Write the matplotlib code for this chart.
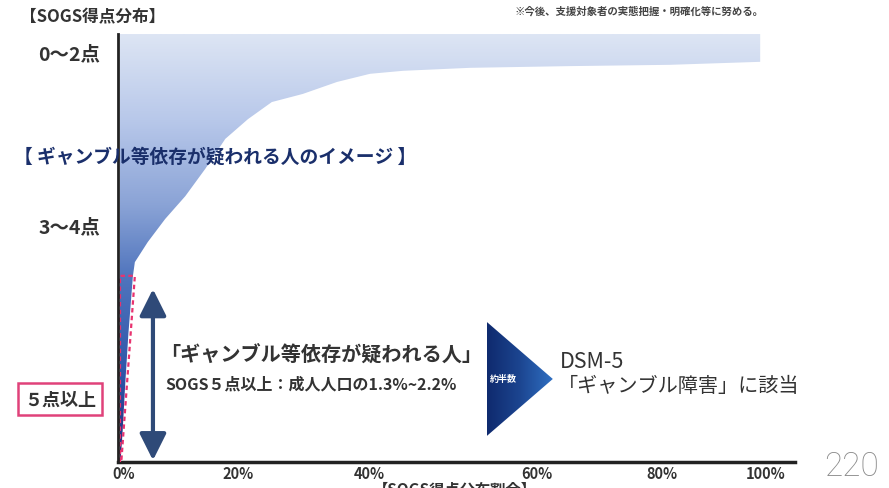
import matplotlib
matplotlib.use("Agg")
import matplotlib.pyplot as plt
import numpy as np
from matplotlib.colors import LinearSegmentedColormap
from matplotlib.patches import Polygon

plt.rcParams["font.family"] = ["Noto Sans CJK JP", "DejaVu Sans"]

W, H = 889, 489

# share of population (%) vs. height of the score band (100 = top of chart)
curve_x = [99.1, 85.1, 69.7, 54.2, 43.8, 38.7, 33.6, 28.3, 23.5, 19.8, 16.3,
           13.2, 10.1, 7.0, 4.3, 2.3, 2.0, 1.3, 0.8, 0.4, 0.1]
curve_y = [93.5, 92.8, 92.5, 92.1, 91.4, 90.7, 88.8, 86.0, 84.1, 80.1, 75.5,
           68.5, 62.1, 56.8, 51.4, 46.7, 43.5, 30.0, 18.0, 7.0, 0.5]
top_y = 100.0

# pathological (SOGS 5+) wedge outline
wedge_x = [0.0, 0.0, 2.3, 0.2]
wedge_y = [0.0, 43.5, 43.5, 0.0]

tick_pos = [0.6, 18.3, 38.6, 64.6, 83.9, 100.0]
tick_labels = ["0%", "20%", "40%", "60%", "80%", "100%"]

score_labels = ["0～2点", "3～4点"]
score_pos = [95.3, 54.9]


def fx(px):
    return px / W


def fy(py):
    return 1 - py / H


fig = plt.figure(figsize=(W / 100, H / 100), dpi=100)
ax = fig.add_axes([fx(118), fy(463), (795 - 118) / W, (463 - 35) / H])
ax.set_xlim(-0.31, 104.49)
ax.set_ylim(0, 100)

# gradient filled distribution shape
shape = Polygon(list(zip([0.0, curve_x[0]] + curve_x + [0.0],
                         [top_y, top_y] + curve_y + [0.0])),
                closed=True, facecolor="none", edgecolor="none")
ax.add_patch(shape)
cmap = LinearSegmentedColormap.from_list(
    "blues", [(0.0, "#1d2a78"), (0.2, "#2f55a8"), (0.43, "#4f74bd"),
              (0.6, "#8aa3d6"), (0.8, "#b8c8ea"), (1.0, "#dde5f4")])
grad = np.linspace(0, 1, 256).reshape(-1, 1)
im = ax.imshow(grad, extent=(0, 100, 0, 100), origin="lower", aspect="auto",
               cmap=cmap, zorder=1)
im.set_clip_path(shape)

# pink dashed outline around the SOGS 5+ wedge
ax.plot(wedge_x + [wedge_x[0]], wedge_y + [wedge_y[0]], color="#e8336f",
        lw=1.6, ls=(0, (2, 1.5)), zorder=3)

for sp in ["top", "right"]:
    ax.spines[sp].set_visible(False)
ax.spines["left"].set_linewidth(2)
ax.spines["bottom"].set_linewidth(2.5)
ax.spines["left"].set_color("#222222")
ax.spines["bottom"].set_color("#222222")
ax.spines["left"].set_zorder(4)
ax.set_yticks([])
ax.set_xticks(tick_pos)
ax.set_xticklabels(tick_labels, fontsize=10.5, fontweight="bold", color="#333333")
ax.tick_params(axis="x", length=0, pad=2)

# double arrow
ax.annotate("", xy=(5.1, 0.4), xytext=(5.1, 40.4),
            arrowprops=dict(arrowstyle="<|-|>,head_width=0.45,head_length=0.9",
                            color="#2f4a78", lw=3, mutation_scale=18,
                            shrinkA=0, shrinkB=0), zorder=3)

# triangle marker with gradient
tri = Polygon([(56.8, 32.7), (67.0, 19.4), (56.8, 6.1)], closed=True,
              facecolor="none", edgecolor="none")
ax.add_patch(tri)
tcmap = LinearSegmentedColormap.from_list("tri", ["#0f2a6e", "#1c4590", "#2f6fc2"])
tgrad = np.linspace(0, 1, 128).reshape(1, -1)
tim = ax.imshow(tgrad, extent=(56.8, 67.0, 6.1, 32.7), aspect="auto",
                cmap=tcmap, zorder=2)
tim.set_clip_path(tri)
ax.text(59.3, 19.4, "約半数", fontsize=6.5, color="white", fontweight="bold",
        ha="center", va="center", zorder=3)

# texts
fig.text(fx(20), fy(17), "【SOGS得点分布】", fontsize=12, fontweight="bold",
         color="#333333", va="center")
fig.text(fx(515), fy(11), "※今後、支援対象者の実態把握・明確化等に努める。",
         fontsize=7.5, fontweight="bold", color="#444444", va="center")
for lab, pos in zip(score_labels, score_pos):
    ax.text(-3.1, pos, lab, fontsize=14, fontweight="bold", color="#333333",
            ha="right", va="center", clip_on=False)
fig.text(fx(14), fy(157), "【 ギャンブル等依存が疑われる人のイメージ 】",
         fontsize=13.5, fontweight="bold", color="#1a2f6b", va="center", zorder=5)
fig.text(fx(60), fy(400), "５点以上", fontsize=13, fontweight="bold",
         color="#333333", ha="center", va="center",
         bbox=dict(facecolor="white", edgecolor="#e0427a", lw=1.8,
                   boxstyle="square,pad=0.35"))
fig.text(fx(160), fy(355), "「ギャンブル等依存が疑われる人」", fontsize=14.5,
         fontweight="bold", color="#333333", va="center")
fig.text(fx(165), fy(385), "SOGS５点以上：成人人口の1.3%~2.2%", fontsize=11.5,
         fontweight="bold", color="#333333", va="center")
fig.text(fx(560), fy(362), "DSM-5", fontsize=15.5, color="#333333", va="center")
fig.text(fx(558), fy(386), "「ギャンブル障害」に該当", fontsize=14.5,
         color="#333333", va="center")
fig.text(fx(455), fy(482), "【SOGS得点分布割合】", fontsize=11, fontweight="bold",
         color="#333333", ha="center", va="top")
fig.text(fx(851), fy(467), "220", fontsize=24, color="#8a8a8a",
         family=["Roboto", "DejaVu Sans"], fontweight="light",
         ha="center", va="center")

fig.savefig("out.png", dpi=100, facecolor="white")
